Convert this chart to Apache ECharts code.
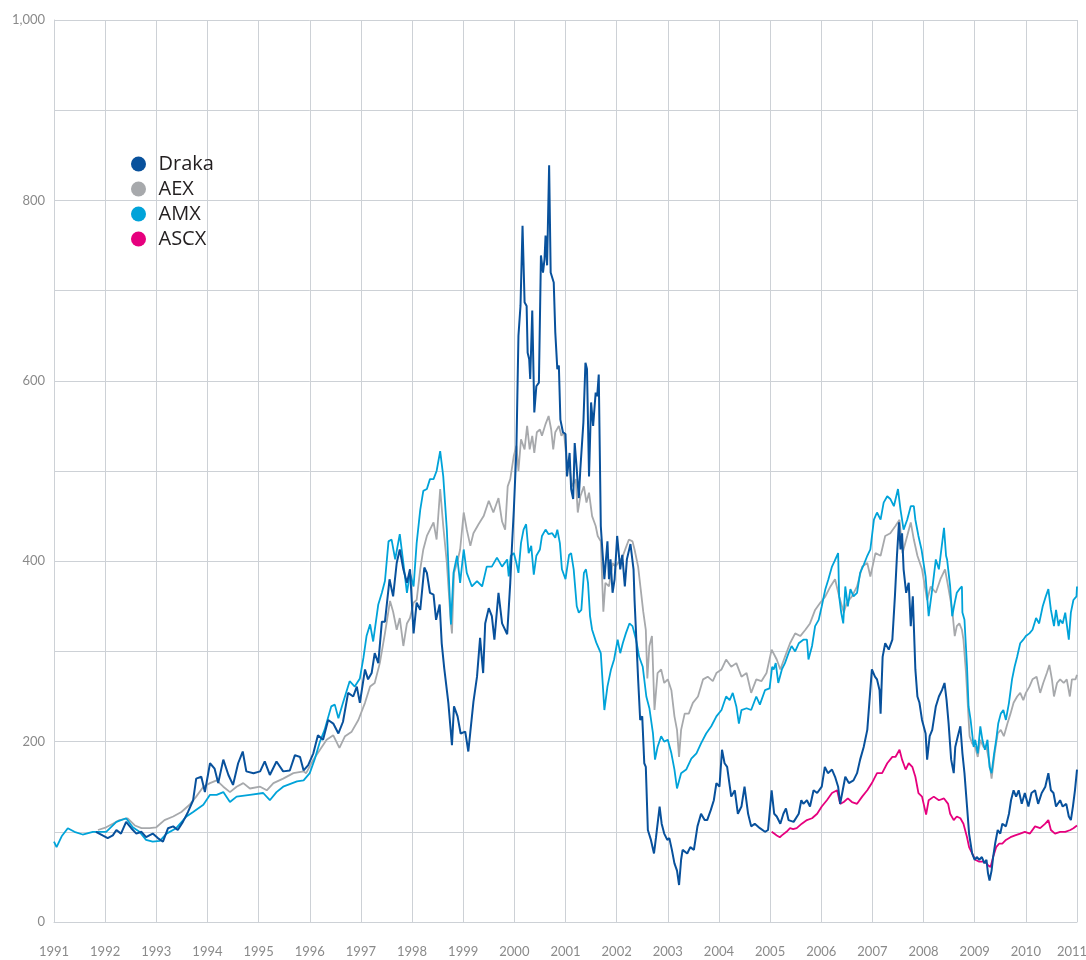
<!DOCTYPE html>
<html>
<head>
<meta charset="utf-8">
<title>Draka vs AEX / AMX / ASCX</title>
<script src="https://cdn.jsdelivr.net/npm/echarts@6/dist/echarts.min.js"></script>
<style>
  html, body { margin: 0; padding: 0; background: #fff; }
  #main { width: 1086px; height: 960px; }
</style>
</head>
<body>
<div id="main"></div>
<script>
// series names (legend order)
var names = ['Draka', 'AEX', 'AMX', 'ASCX'];

// [year, index value]
var draka = [
  [1991.82,100],[1991.95,96],[1992.05,93],[1992.15,96],[1992.22,102],[1992.31,98],[1992.41,111],[1992.51,104],
  [1992.61,98],[1992.71,100],[1992.80,94],[1992.93,98],[1993.03,93],[1993.13,89],[1993.23,104],[1993.33,106],
  [1993.42,102],[1993.52,111],[1993.62,122],[1993.72,135],[1993.78,159],[1993.88,161],[1993.95,144],[1994.05,176],
  [1994.14,170],[1994.21,154],[1994.31,180],[1994.41,163],[1994.50,152],[1994.60,176],[1994.69,189],[1994.76,167],
  [1994.90,165],[1995.03,167],[1995.12,178],[1995.22,163],[1995.35,178],[1995.48,167],[1995.61,168],[1995.71,185],
  [1995.81,183],[1995.88,168],[1995.97,174],[1996.07,187],[1996.16,207],[1996.26,202],[1996.36,224],[1996.46,220],
  [1996.56,209],[1996.65,222],[1996.75,254],[1996.85,250],[1996.92,261],[1996.98,243],[1997.08,280],[1997.14,269],
  [1997.21,276],[1997.27,298],[1997.34,287],[1997.41,333],[1997.47,333],[1997.56,380],[1997.63,361],[1997.70,398],
  [1997.76,413],[1997.83,391],[1997.90,376],[1997.96,391],[1998.03,320],[1998.09,354],[1998.16,346],[1998.24,393],
  [1998.29,387],[1998.35,365],[1998.42,363],[1998.47,335],[1998.54,352],[1998.58,309],[1998.63,281],[1998.71,243],
  [1998.78,196],[1998.82,239],[1998.89,228],[1998.95,209],[1999.04,211],[1999.10,189],[1999.14,211],[1999.20,244],
  [1999.27,272],[1999.33,315],[1999.39,276],[1999.43,331],[1999.50,348],[1999.56,339],[1999.61,313],[1999.69,365],
  [1999.76,331],[1999.86,319],[1999.92,376],[1999.95,413],[1999.99,457],[2000.04,524],[2000.08,650],[2000.12,683],
  [2000.16,772],[2000.20,687],[2000.24,683],[2000.26,631],[2000.29,624],[2000.31,602],[2000.35,678],[2000.39,565],
  [2000.43,594],[2000.48,598],[2000.52,739],[2000.56,720],[2000.59,735],[2000.61,761],[2000.64,728],[2000.68,839],
  [2000.71,720],[2000.77,709],[2000.80,654],[2000.84,613],[2000.87,617],[2000.90,557],[2000.95,543],[2001.00,541],
  [2001.03,494],[2001.08,520],[2001.11,480],[2001.15,469],[2001.18,531],[2001.22,502],[2001.26,470],[2001.29,502],
  [2001.35,554],[2001.39,620],[2001.42,613],[2001.46,494],[2001.50,576],[2001.54,550],[2001.59,587],[2001.62,583],
  [2001.65,607],[2001.69,439],[2001.72,413],[2001.76,380],[2001.82,422],[2001.85,380],[2001.88,402],[2001.92,365],
  [2001.96,380],[2002.01,428],[2002.07,391],[2002.11,407],[2002.16,372],[2002.20,402],[2002.27,419],[2002.33,391],
  [2002.35,357],[2002.42,269],[2002.46,224],[2002.50,228],[2002.54,176],[2002.57,172],[2002.61,102],[2002.67,91],
  [2002.73,76],[2002.77,94],[2002.84,128],[2002.88,109],[2002.93,98],[2002.99,91],[2003.03,93],[2003.08,80],
  [2003.13,65],[2003.18,57],[2003.22,41],[2003.26,69],[2003.29,80],[2003.38,76],[2003.44,83],[2003.51,80],
  [2003.58,106],[2003.65,120],[2003.72,113],[2003.77,113],[2003.84,124],[2003.90,135],[2003.95,154],[2004.01,150],
  [2004.06,191],[2004.11,176],[2004.16,172],[2004.24,139],[2004.31,146],[2004.37,120],[2004.44,128],[2004.50,150],
  [2004.57,120],[2004.63,106],[2004.70,109],[2004.80,104],[2004.90,100],[2004.96,102],[2005.03,146],[2005.08,120],
  [2005.13,117],[2005.20,109],[2005.26,120],[2005.31,126],[2005.36,113],[2005.46,111],[2005.56,120],[2005.61,135],
  [2005.65,131],[2005.72,135],[2005.78,128],[2005.85,146],[2005.92,143],[2006.01,150],[2006.07,172],[2006.13,165],
  [2006.21,169],[2006.27,161],[2006.33,150],[2006.37,131],[2006.42,146],[2006.47,161],[2006.54,154],[2006.63,157],
  [2006.70,165],[2006.76,180],[2006.83,194],[2006.90,213],[2006.94,243],[2006.99,280],[2007.05,272],[2007.09,269],
  [2007.14,257],[2007.16,231],[2007.20,294],[2007.25,309],[2007.32,302],[2007.39,313],[2007.44,361],[2007.48,406],
  [2007.52,443],[2007.55,413],[2007.58,431],[2007.61,391],[2007.66,365],[2007.71,376],[2007.75,328],[2007.79,361],
  [2007.84,280],[2007.88,250],[2007.92,243],[2007.97,224],[2008.04,209],[2008.07,180],[2008.12,206],[2008.17,213],
  [2008.24,239],[2008.30,250],[2008.36,257],[2008.41,265],[2008.45,246],[2008.49,220],[2008.54,180],[2008.59,165],
  [2008.62,194],[2008.67,206],[2008.72,217],[2008.76,187],[2008.80,165],[2008.85,128],[2008.89,98],[2008.95,76],
  [2009.00,69],[2009.04,72],[2009.09,69],[2009.14,72],[2009.19,65],[2009.23,69],[2009.26,54],[2009.29,46],
  [2009.33,57],[2009.36,72],[2009.40,87],[2009.45,102],[2009.50,98],[2009.54,109],[2009.61,106],[2009.67,120],
  [2009.71,135],[2009.76,146],[2009.81,139],[2009.86,146],[2009.92,131],[2009.98,143],[2010.05,128],[2010.11,143],
  [2010.18,146],[2010.24,131],[2010.31,143],[2010.38,150],[2010.44,165],[2010.49,146],[2010.54,143],[2010.59,128],
  [2010.67,135],[2010.72,128],[2010.79,131],[2010.84,117],[2010.88,113],[2010.92,128],[2010.96,146],[2011.00,169]
];

var aex = [
  [1991.86,102],[1992.02,105],[1992.15,109],[1992.28,113],[1992.44,115],[1992.58,107],[1992.71,104],[1992.87,104],
  [1993.00,105],[1993.16,113],[1993.33,117],[1993.49,122],[1993.65,130],[1993.78,139],[1993.92,150],[1994.05,154],
  [1994.18,157],[1994.31,150],[1994.44,144],[1994.57,150],[1994.70,154],[1994.83,148],[1995.03,150],[1995.16,146],
  [1995.29,154],[1995.48,159],[1995.68,165],[1995.88,167],[1995.93,165],[1996.07,180],[1996.20,191],[1996.33,202],
  [1996.46,207],[1996.58,193],[1996.69,206],[1996.82,211],[1996.95,224],[1997.08,243],[1997.18,261],[1997.27,265],
  [1997.37,287],[1997.47,320],[1997.57,356],[1997.63,344],[1997.70,324],[1997.76,337],[1997.83,306],[1997.90,331],
  [1997.96,337],[1998.03,354],[1998.09,357],[1998.16,391],[1998.22,413],[1998.29,428],[1998.35,435],[1998.42,443],
  [1998.48,424],[1998.55,480],[1998.61,439],[1998.68,398],[1998.75,339],[1998.78,320],[1998.82,387],[1998.88,398],
  [1998.94,413],[1999.01,454],[1999.07,435],[1999.14,417],[1999.20,431],[1999.30,441],[1999.40,450],[1999.50,467],
  [1999.59,454],[1999.69,470],[1999.76,444],[1999.82,435],[1999.87,483],[1999.92,491],[1999.99,517],[2000.04,528],
  [2000.08,500],[2000.13,535],[2000.20,524],[2000.25,550],[2000.30,524],[2000.35,539],[2000.39,520],[2000.44,543],
  [2000.50,546],[2000.54,539],[2000.61,552],[2000.67,561],[2000.72,546],[2000.76,524],[2000.80,543],[2000.87,550],
  [2000.92,539],[2000.97,543],[2001.02,513],[2001.07,506],[2001.13,483],[2001.20,491],[2001.24,454],[2001.29,472],
  [2001.36,483],[2001.41,465],[2001.46,476],[2001.52,450],[2001.59,439],[2001.63,428],[2001.69,422],[2001.74,344],
  [2001.78,376],[2001.85,372],[2001.92,398],[2001.98,394],[2002.05,400],[2002.11,404],[2002.18,415],[2002.24,424],
  [2002.31,422],[2002.35,413],[2002.42,394],[2002.47,369],[2002.52,344],[2002.57,324],[2002.60,270],[2002.64,306],
  [2002.69,317],[2002.74,235],[2002.80,276],[2002.87,280],[2002.93,265],[2003.00,269],[2003.07,257],[2003.13,228],
  [2003.18,213],[2003.22,183],[2003.26,213],[2003.33,231],[2003.41,231],[2003.49,243],[2003.59,250],[2003.69,269],
  [2003.78,272],[2003.88,267],[2003.95,276],[2004.05,280],[2004.14,291],[2004.24,283],[2004.34,287],[2004.44,272],
  [2004.54,276],[2004.63,254],[2004.73,269],[2004.83,267],[2004.93,276],[2005.03,302],[2005.13,291],[2005.20,280],
  [2005.29,294],[2005.39,309],[2005.49,320],[2005.59,317],[2005.69,324],[2005.78,331],[2005.88,346],[2005.98,354],
  [2006.08,361],[2006.18,372],[2006.27,380],[2006.35,361],[2006.44,343],[2006.50,354],[2006.60,361],[2006.70,372],
  [2006.80,394],[2006.90,398],[2006.96,383],[2007.06,409],[2007.16,406],[2007.25,428],[2007.35,431],[2007.45,439],
  [2007.53,446],[2007.59,409],[2007.68,428],[2007.75,443],[2007.81,424],[2007.88,406],[2007.97,391],[2008.07,357],
  [2008.14,372],[2008.24,365],[2008.33,380],[2008.42,391],[2008.49,369],[2008.56,346],[2008.61,317],[2008.65,328],
  [2008.70,331],[2008.75,324],[2008.78,313],[2008.83,276],[2008.86,246],[2008.90,206],[2008.95,198],[2009.01,194],
  [2009.06,183],[2009.11,202],[2009.17,194],[2009.23,194],[2009.29,176],[2009.33,159],[2009.39,187],[2009.45,209],
  [2009.51,213],[2009.57,206],[2009.64,220],[2009.70,231],[2009.76,243],[2009.83,250],[2009.89,254],[2009.95,246],
  [2010.00,254],[2010.07,261],[2010.13,269],[2010.21,272],[2010.28,254],[2010.34,265],[2010.41,276],[2010.46,285],
  [2010.51,269],[2010.55,250],[2010.61,265],[2010.67,269],[2010.74,265],[2010.80,269],[2010.86,250],[2010.90,269],
  [2010.97,269],[2011.00,274]
];

var amx = [
  [1991.00,89],[1991.05,83],[1991.15,95],[1991.27,104],[1991.40,100],[1991.56,97],[1991.76,100],[1992.02,100],
  [1992.22,111],[1992.41,115],[1992.54,105],[1992.67,100],[1992.80,91],[1992.93,89],[1993.07,90],[1993.20,98],
  [1993.39,104],[1993.59,117],[1993.72,122],[1993.92,130],[1994.05,141],[1994.18,141],[1994.31,144],[1994.44,133],
  [1994.57,139],[1994.83,141],[1995.09,143],[1995.22,135],[1995.35,144],[1995.48,150],[1995.75,156],[1995.88,157],
  [1996.00,165],[1996.10,181],[1996.20,200],[1996.29,213],[1996.42,239],[1996.49,241],[1996.56,226],[1996.65,243],
  [1996.78,267],[1996.88,261],[1996.98,270],[1997.05,293],[1997.11,317],[1997.18,330],[1997.24,311],[1997.34,352],
  [1997.41,365],[1997.47,378],[1997.54,422],[1997.60,424],[1997.67,402],[1997.76,430],[1997.83,398],[1997.90,365],
  [1997.96,387],[1998.03,372],[1998.09,420],[1998.16,457],[1998.22,478],[1998.29,480],[1998.35,491],[1998.42,491],
  [1998.48,500],[1998.55,522],[1998.61,494],[1998.68,435],[1998.76,330],[1998.81,387],[1998.88,406],[1998.94,376],
  [1999.01,413],[1999.07,387],[1999.17,372],[1999.27,378],[1999.37,372],[1999.46,394],[1999.56,394],[1999.66,404],
  [1999.76,394],[1999.86,402],[1999.89,383],[1999.93,406],[1999.99,409],[2000.04,398],[2000.08,387],[2000.13,420],
  [2000.18,435],[2000.23,441],[2000.28,409],[2000.33,417],[2000.38,385],[2000.43,406],[2000.50,413],[2000.54,428],
  [2000.61,435],[2000.67,430],[2000.74,431],[2000.80,426],[2000.84,435],[2000.89,420],[2000.93,391],[2001.00,380],
  [2001.07,407],[2001.11,409],[2001.16,391],[2001.22,350],[2001.26,343],[2001.31,346],[2001.36,387],[2001.40,391],
  [2001.44,376],[2001.48,339],[2001.52,324],[2001.60,310],[2001.69,298],[2001.76,235],[2001.82,261],[2001.89,280],
  [2001.95,291],[2002.02,313],[2002.07,298],[2002.12,309],[2002.18,320],[2002.25,331],[2002.31,328],[2002.38,313],
  [2002.44,294],[2002.51,283],[2002.58,250],[2002.64,237],[2002.71,209],[2002.75,180],[2002.80,194],[2002.87,206],
  [2002.93,200],[2003.00,202],[2003.07,187],[2003.13,169],[2003.18,148],[2003.26,165],[2003.36,169],[2003.46,181],
  [2003.56,187],[2003.65,198],[2003.75,209],[2003.85,217],[2003.95,228],[2004.05,235],[2004.14,250],[2004.21,246],
  [2004.27,254],[2004.34,239],[2004.39,220],[2004.44,235],[2004.54,237],[2004.63,235],[2004.73,250],[2004.80,241],
  [2004.90,257],[2004.99,259],[2005.04,283],[2005.07,280],[2005.11,287],[2005.16,265],[2005.23,280],[2005.29,287],
  [2005.36,298],[2005.42,306],[2005.49,300],[2005.56,309],[2005.65,313],[2005.72,313],[2005.75,291],[2005.82,306],
  [2005.88,328],[2005.95,335],[2006.01,350],[2006.08,369],[2006.14,380],[2006.21,394],[2006.26,400],[2006.33,409],
  [2006.35,361],[2006.39,343],[2006.43,331],[2006.47,372],[2006.52,350],[2006.57,369],[2006.63,361],[2006.70,365],
  [2006.76,387],[2006.83,396],[2006.90,406],[2006.96,413],[2007.03,446],[2007.09,454],[2007.16,446],[2007.22,465],
  [2007.29,472],[2007.35,469],[2007.42,461],[2007.50,480],[2007.55,457],[2007.61,435],[2007.68,446],[2007.75,461],
  [2007.81,461],[2007.84,446],[2007.90,428],[2007.96,413],[2008.04,383],[2008.10,339],[2008.17,369],[2008.24,402],
  [2008.30,391],[2008.40,437],[2008.44,406],[2008.46,402],[2008.52,372],[2008.56,339],[2008.61,354],[2008.65,365],
  [2008.70,369],[2008.75,372],[2008.76,343],[2008.80,335],[2008.85,283],[2008.88,239],[2008.92,224],[2008.95,209],
  [2008.98,194],[2009.01,202],[2009.06,187],[2009.11,217],[2009.15,202],[2009.20,191],[2009.25,202],[2009.29,172],
  [2009.33,165],[2009.38,187],[2009.42,202],[2009.46,220],[2009.51,231],[2009.56,235],[2009.61,224],[2009.67,243],
  [2009.73,269],[2009.78,283],[2009.83,294],[2009.89,309],[2009.95,313],[2010.00,317],[2010.07,320],[2010.13,324],
  [2010.20,337],[2010.26,331],[2010.33,350],[2010.39,361],[2010.44,369],[2010.49,346],[2010.55,328],[2010.59,346],
  [2010.64,328],[2010.67,335],[2010.72,331],[2010.77,343],[2010.84,313],[2010.88,343],[2010.93,357],[2010.99,361],
  [2011.00,372]
];

var ascx = [
  [2005.03,100],[2005.08,98],[2005.13,96],[2005.19,94],[2005.23,96],[2005.32,100],[2005.39,104],[2005.45,103],
  [2005.52,104],[2005.62,109],[2005.72,113],[2005.82,115],[2005.92,120],[2006.01,128],[2006.11,135],[2006.21,143],
  [2006.31,146],[2006.37,131],[2006.44,133],[2006.52,137],[2006.60,133],[2006.70,131],[2006.80,139],[2006.90,146],
  [2006.99,154],[2007.09,165],[2007.19,165],[2007.29,176],[2007.39,183],[2007.45,183],[2007.53,191],[2007.58,180],
  [2007.65,169],[2007.71,176],[2007.78,172],[2007.84,161],[2007.90,143],[2007.97,139],[2008.05,119],[2008.10,135],
  [2008.20,139],[2008.30,135],[2008.40,137],[2008.48,131],[2008.52,120],[2008.59,113],[2008.65,117],[2008.72,115],
  [2008.78,109],[2008.85,94],[2008.89,83],[2008.95,76],[2009.01,69],[2009.08,67],[2009.14,67],[2009.20,67],
  [2009.26,63],[2009.31,61],[2009.36,72],[2009.42,83],[2009.48,87],[2009.54,87],[2009.61,91],[2009.70,94],
  [2009.79,96],[2009.89,98],[2009.98,100],[2010.08,98],[2010.18,106],[2010.28,104],[2010.38,109],[2010.44,113],
  [2010.49,102],[2010.57,98],[2010.67,100],[2010.77,100],[2010.87,102],[2010.93,104],[2011.00,107]
];

var colors = { Draka: '#08519c', AEX: '#a7a9ac', AMX: '#00a3d9', ASCX: '#e6007e' };
var gridColor = '#cdd1d6';
var labelColor = '#8a8a8a';

var chart = echarts.init(document.getElementById('main'));

function line(name, data, width) {
  return {
    name: name,
    type: 'line',
    data: data,
    showSymbol: false,
    symbol: 'circle',
    itemStyle: { color: colors[name] },
    lineStyle: { color: colors[name], width: width },
    emphasis: { disabled: true }
  };
}

chart.setOption({
  animation: false,
  backgroundColor: '#ffffff',
  textStyle: { fontFamily: 'Lato, "Open Sans", sans-serif' },
  grid: { left: 54, right: 9, top: 20, bottom: 38, containLabel: false, outerBoundsMode: 'none' },
  legend: {
    data: names,
    orient: 'vertical',
    left: 126,
    top: 149,
    icon: 'circle',
    itemWidth: 30,
    itemHeight: 15,
    itemGap: 5,
    textStyle: { color: '#231f20', fontFamily: '"Open Sans", sans-serif', fontSize: 20, lineHeight: 18 }
  },
  xAxis: {
    type: 'value',
    min: 1991,
    max: 2011,
    interval: 1,
    axisLine: { show: true, lineStyle: { color: gridColor, width: 1 } },
    axisTick: { show: false },
    splitLine: { show: true, lineStyle: { color: gridColor, width: 1 } },
    axisLabel: {
      color: labelColor,
      fontSize: 13,
      margin: 23,
      formatter: function (v) { return v === 2011 ? '{last|' + v + '}' : String(v); },
      rich: { last: { color: labelColor, fontSize: 13, padding: [0, 10, 0, 0] } }
    }
  },
  yAxis: {
    type: 'value',
    min: 0,
    max: 1000,
    interval: 100,
    axisLine: { show: true, lineStyle: { color: gridColor, width: 1 } },
    axisTick: { show: false },
    splitLine: { show: true, lineStyle: { color: gridColor, width: 1 } },
    axisLabel: {
      color: labelColor,
      fontSize: 13,
      margin: 9,
      formatter: function (v) {
        return v % 200 === 0 ? v.toLocaleString('en-US') : '';
      }
    }
  },
  series: [
    line('AEX', aex, 1.8),
    line('AMX', amx, 1.8),
    line('ASCX', ascx, 1.8),
    line('Draka', draka, 2)
  ]
});
</script>
</body>
</html>
